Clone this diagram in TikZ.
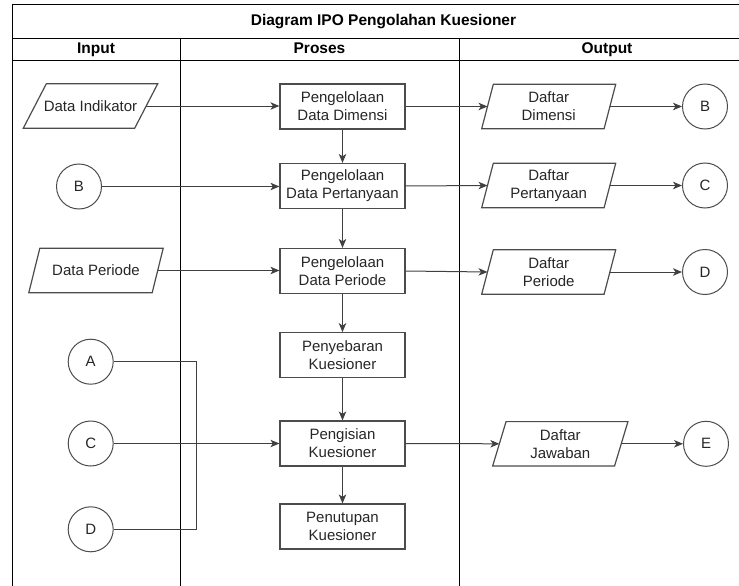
\documentclass[tikz,border=0pt]{standalone}
\usepackage{fontspec}
\setmainfont{Liberation Sans}
\usetikzlibrary{arrows.meta,calc}

% parallelogram (data) outline around a text node: #1 node name, #2 half of the slant
\newcommand\dataoutline[2]{%
  \path[iodraw] ([xshift=-#2]#1.south west) -- ([xshift=#2]#1.north west)
    -- ([xshift=#2]#1.north east) -- ([xshift=-#2]#1.south east) -- cycle;}

\begin{document}
\begin{tikzpicture}[x=1pt,y=-1pt,
  txt/.style={font=\fontsize{15}{18}\selectfont, text=black!85, align=center},
  headtxt/.style={font=\fontsize{15.5}{18}\selectfont\bfseries, text=black,
                  text height=11.5pt, text depth=3.5pt, inner sep=0pt},
  frameline/.style={draw=black, line width=1pt},
  procbox/.style={txt, draw=black!70, line width=1.2pt, minimum width=125pt,
                  minimum height=45pt, inner sep=0pt},
  datanode/.style={txt, minimum height=44pt, inner sep=0pt},
  iodraw/.style={draw=black!70, line width=1.2pt},
  offpage/.style={txt, circle, draw=black!70, line width=1pt,
                  minimum size=45pt, inner sep=0pt},
  flow/.style={draw=black!75, line width=1pt,
               -{Stealth[length=9pt,width=7.5pt,inset=2.5pt]}},
  link/.style={draw=black!75, line width=1pt}]

\path[use as bounding box] (0,0) rectangle (739,586);
\clip (0,0) rectangle (739,586);

% table frame
\draw[frameline] (12.5,5) rectangle (760,600);
\draw[frameline] (12.5,39) -- (760,39);
\draw[frameline] (12.5,61) -- (760,61);
\draw[frameline] (180,39) -- (180,600);
\draw[frameline] (459.3,39) -- (459.3,600);

\node[headtxt] (title) at (383.5,22) {Diagram IPO Pengolahan Kuesioner};
\node[headtxt] (hin)   at (96,50)    {Input};
\node[headtxt] (hpro)  at (319.5,50) {Proses};
\node[headtxt] (hout)  at (607,50)   {Output};

% input column
\node[datanode, minimum width=111pt] (indik) at (90.5,106) {Data Indikator};
\dataoutline{indik}{11.5}
\node[offpage] (inB) at (79,186.5) {B};
\node[datanode, minimum width=123pt] (inper) at (96,270.5) {Data Periode};
\dataoutline{inper}{5.5}
\node[offpage] (inA) at (90.7,361.7) {A};
\node[offpage] (inC) at (90.7,443.5) {C};
\node[offpage] (inD) at (90.7,529.3) {D};
\coordinate (merge) at (196.7,443.5);

% process column
\node[procbox] (p1) at (342.5,106.5) {Pengelolaan\\Data Dimensi};
\node[procbox] (p2) at (342.5,186)   {Pengelolaan\\Data Pertanyaan};
\node[procbox] (p3) at (342.5,271)   {Pengelolaan\\Data Periode};
\node[procbox] (p4) at (342.5,355.2) {Penyebaran\\Kuesioner};
\node[procbox] (p5) at (342.5,443.5) {Pengisian\\Kuesioner};
\node[procbox] (p6) at (342.5,526.5) {Penutupan\\Kuesioner};

% output column
\node[datanode, minimum width=122pt] (o1) at (548.7,106.5) {Daftar\\Dimensi};
\dataoutline{o1}{5.8}
\node[datanode, minimum width=122pt] (o2) at (548.7,185.5) {Daftar\\Pertanyaan};
\dataoutline{o2}{5.8}
\node[datanode, minimum width=122pt] (o3) at (548.7,272) {Daftar\\Periode};
\dataoutline{o3}{5.8}
\node[datanode, minimum width=121.5pt] (o4) at (560.3,443.8) {Daftar\\Jawaban};
\dataoutline{o4}{6.7}
\node[offpage] (outB) at (705,106.5) {B};
\node[offpage] (outC) at (705,185.5) {C};
\node[offpage] (outD) at (705,272)   {D};
\node[offpage] (outE) at (706,443.8) {E};

% input to process
\draw[flow] (indik.east) -- (indik.east -| p1.west);
\draw[flow] (inB.east) -- (inB.east -| p2.west);
\draw[flow] (inper.east) -- (inper.east -| p3.west);
\draw[link] (inA.east) -| (merge);
\draw[link] (inD.east) -| (merge);
\draw[flow] (inC.east) -- (p5.west);

% process sequence
\draw[flow] (p1) -- (p2);
\draw[flow] (p2) -- (p3);
\draw[flow] (p3) -- (p4);
\draw[flow] (p4) -- (p5);
\draw[flow] (p5) -- (p6);

% process to output
\draw[flow] (p1.east) -- (o1.west);
\draw[flow] (p2.east) -- (o2.west);
\draw[flow] (p3.east) -- (o3.west);
\draw[flow] (p5.east) -- (o4.west);
\draw[flow] (o1.east) -- (outB.west);
\draw[flow] (o2.east) -- (outC.west);
\draw[flow] (o3.east) -- (outD.west);
\draw[flow] (o4.east) -- (outE.west);
\end{tikzpicture}
\end{document}
